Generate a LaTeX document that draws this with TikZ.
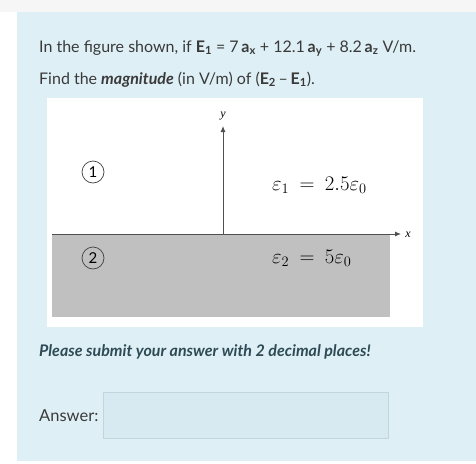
\documentclass[tikz,border=0pt]{standalone}
\usepackage{fontspec}
\setmainfont{Lato}
\newfontfamily\timesfont{Liberation Serif}
\usetikzlibrary{arrows.meta}
\definecolor{panelbg}{HTML}{DEF0F6}
\definecolor{topstrip}{HTML}{F6F6F6}
\definecolor{maintext}{HTML}{3A3A3A}
\definecolor{noteclr}{HTML}{2E4A55}
\definecolor{regiongray}{HTML}{C0C0C0}
\definecolor{axisclr}{HTML}{505050}
\definecolor{ansfill}{HTML}{D8EAF1}
\definecolor{ansdraw}{HTML}{C3D5DC}
\tikzset{
  txt/.style={anchor=base west, inner sep=0pt, text=maintext, font=\fontsize{16}{19}\selectfont},
  axis/.style={draw=axisclr, line width=0.9pt, -{Latex[length=6pt,width=5pt]}},
  regionmark/.style={circle, draw=black!75, line width=0.7pt, inner sep=0pt, minimum size=22pt, font=\fontsize{15}{17}\selectfont},
  epslbl/.style={anchor=west, inner sep=0pt, font=\fontsize{19.5}{21}\selectfont},
  axlbl/.style={inner sep=0pt, font=\timesfont\itshape\fontsize{12}{14}\selectfont}
}
\begin{document}
\begin{tikzpicture}[x=1pt,y=-1pt]
\useasboundingbox (0,0) rectangle (476,463);
\fill[white] (0,0) rectangle (476,463);
\fill[topstrip] (0,0) rectangle (476,12);
\fill[panelbg] (17,12) rectangle (476,461);
% question text
\node[txt] (q1) at (39,52) {In the figure shown, if \textbf{E\textsubscript{1}} = 7\,\textbf{a\textsubscript{x}} + 12.1\,\textbf{a\textsubscript{y}} + 8.2\,\textbf{a\textsubscript{z}} V/m.};
\node[txt] (q2) at (39,84) {Find the \textbf{\textit{magnitude}} (in V/m) of (\textbf{E\textsubscript{2}}\,--\,\textbf{E\textsubscript{1}}).};
% figure
\fill[white] (47,98) rectangle (423,327);
\fill[regiongray] (52,234) rectangle (390,317);
\coordinate (o) at (223,234);
\coordinate (xl) at (52,234);
\coordinate (xe) at (401,234);
\coordinate (ye) at (223,126);
\draw[axis] (xl) -- (xe);
\draw[axis] (o) -- (ye);
\node[axlbl] (xlab) at (408,235) {x};
\node[axlbl] (ylab) at (223,116) {y};
\node[regionmark] (r1) at (93,172) {1};
\node[regionmark] (r2) at (93,258) {2};
\node[epslbl] (e1) at (272,185) {$\varepsilon_1 \:=\: 2.5\varepsilon_0$};
\node[epslbl] (e2) at (272,258) {$\varepsilon_2 \:=\: 5\varepsilon_0$};
% note
\node[txt, text=noteclr, font=\fontsize{16}{19}\selectfont\bfseries\itshape] (note) at (39,356) {Please submit your answer with 2 decimal places!};
\node[txt, font=\fontsize{16.5}{19}\selectfont] (ans) at (39,421) {Answer:};
\node[draw=ansdraw, fill=ansfill, line width=0.7pt, minimum width=285pt, minimum height=46pt, anchor=north west, inner sep=0pt] (box) at (103,392) {};
\end{tikzpicture}
\end{document}
